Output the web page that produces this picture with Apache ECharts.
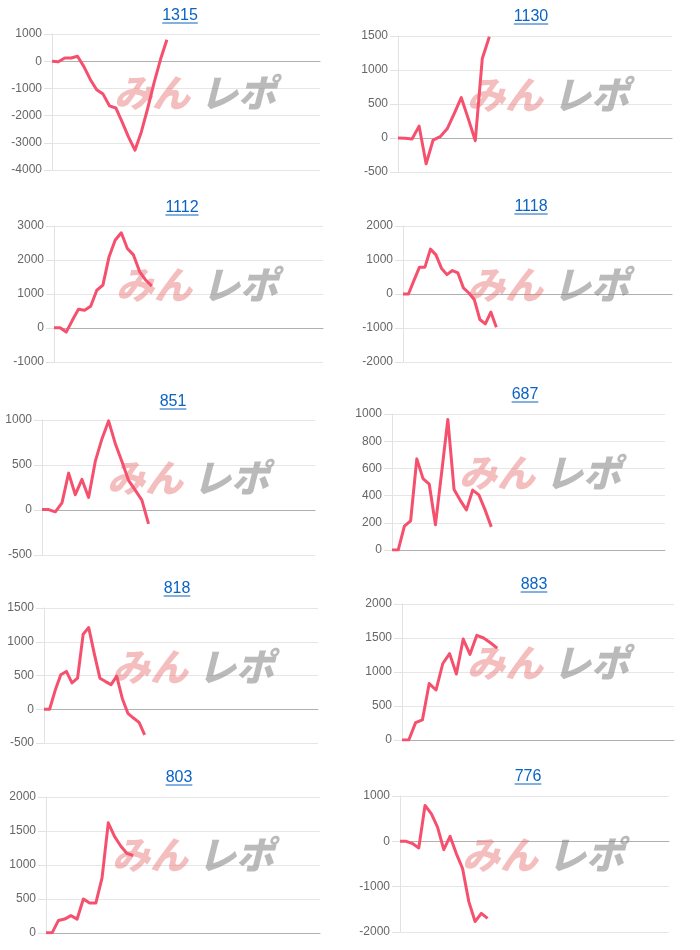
<!DOCTYPE html>
<html><head><meta charset="utf-8">
<script src="https://cdn.jsdelivr.net/npm/echarts@6/dist/echarts.min.js"></script>
<style>html,body{margin:0;padding:0;background:#fff}#c{width:700px;height:950px}</style>
</head><body><div id="c"></div>
<script>
// ---- data ----
const titles = ['1315','1130','1112','1118','851','687','818','883','803','776'];
const s1315 = [0,-20,120,120,180,-200,-670,-1050,-1210,-1640,-1720,-2240,-2790,-3270,-2600,-1730,-790,60,790];
const s1130 = [0,-5,-15,175,-380,-30,20,135,360,595,285,-40,1170,1490];
const s1112 = [10,10,-120,225,550,520,640,1110,1260,2090,2580,2800,2340,2150,1660,1410,1230];
const s1118 = [0,0,400,790,790,1320,1150,760,570,690,620,180,30,-170,-750,-880,-530,-980];
const s851  = [5,5,-20,80,410,170,340,140,540,790,990,740,540,330,220,110,-155];
const s687  = [0,0,175,215,670,525,485,185,570,960,445,365,295,440,405,295,170];
const s818  = [0,0,280,510,560,390,460,1110,1210,820,460,410,365,490,160,-60,-130,-195,-380];
const s883  = [0,0,255,295,830,735,1125,1270,970,1485,1260,1540,1500,1430,1350];
const s803  = [5,5,185,205,255,205,500,440,440,810,1620,1420,1280,1170,1140];
const s776  = [0,0,-50,-145,790,610,315,-185,110,-270,-600,-1330,-1770,-1590,-1700];
const seriesList = [s1315,s1130,s1112,s1118,s851,s687,s818,s883,s803,s776];
const categoryCounts = [43,40,45,50,42,45,50,41,45,44];
const yMin  = [-4000,-500,-1000,-2000,-500,0,-500,0,0,-2000];
const yMax  = [1000,1500,3000,2000,1000,1000,1500,2000,2000,1000];
const yStep = [1000,500,1000,1000,500,200,500,500,500,1000];

// ---- layout ----
const gridRects = [
  [52,34,268,136],[398,36,274,136],
  [54,226,269,136],[403,226,269,136],
  [42,420,273,135],[392,414,273,136],
  [44,608,274,135],[402,604,272,136],
  [46,797,274,136],[400,796,269,136]
];
const titlePos = [[180,16],[531,17],[182,208],[531,207],[173,402],[525,395],[177,589],[534,585],[179,778],[528,777]];
const markPos = [[114,93],[467,95],[116,285],[467,285],[107,478],[459,473],[112,667],[467,663],[112,855],[462,855]];

const LINE = 'rgb(245,80,110)';
const TITLE_COLOR = '#0b63c4';
const titleFont = '16px "Liberation Sans", Arial, sans-serif';
const meas = document.createElement('canvas').getContext('2d');
meas.font = titleFont;

const grids=[], xAxes=[], yAxes=[], series=[], graphics=[];
titles.forEach((t,i)=>{
  const [l,tp,w,h] = gridRects[i];
  grids.push({left:l, top:tp, width:w, height:h, containLabel:false, outerBoundsMode:'none'});
  const cats = [];
  for (let k=0;k<categoryCounts[i];k++) cats.push(String(k+1));
  xAxes.push({type:'category', gridIndex:i, data:cats, boundaryGap:false,
    axisLine:{show:true, onZero:true, lineStyle:{color:'#b0b0b0', width:1}},
    axisTick:{show:false}, axisLabel:{show:false}, splitLine:{show:false}});
  yAxes.push({type:'value', gridIndex:i, min:yMin[i], max:yMax[i], interval:yStep[i],
    axisLine:{show:true, lineStyle:{color:'#e2e2e2'}},
    axisTick:{show:true, length:8, lineStyle:{color:'#e2e2e2'}},
    axisLabel:{color:'#666', fontSize:12, margin:10, fontFamily:'"Liberation Sans", Arial, sans-serif',
      formatter:(v)=>String(v)},
    splitLine:{show:true, lineStyle:{color:'#e6e6e6', width:1}}});
  series.push({type:'line', xAxisIndex:i, yAxisIndex:i, data:seriesList[i],
    symbol:'none', showSymbol:false, z:5,
    lineStyle:{color:LINE, width:3, join:'round'}, itemStyle:{color:LINE}});
  // title (link style)
  const [cx,cy] = titlePos[i];
  const tw = meas.measureText(t).width;
  graphics.push({type:'text', z:10, style:{text:t, x:cx, y:cy, fill:TITLE_COLOR,
    font:titleFont, textAlign:'center', textVerticalAlign:'middle'}});
  graphics.push({type:'line', z:10, shape:{x1:cx-tw/2, y1:cy+7, x2:cx+tw/2, y2:cy+7},
    style:{stroke:TITLE_COLOR, lineWidth:1}});
  // watermark
  const [mx,my] = markPos[i];
  graphics.push({type:'text', z:1, style:{text:'みん', x:mx, y:my, fill:'rgba(230,110,110,0.45)',
    font:'italic 900 38px "Noto Sans CJK JP", sans-serif', textAlign:'left', textVerticalAlign:'middle'}});
  graphics.push({type:'text', z:1, style:{text:'レポ', x:mx+86, y:my, fill:'rgba(130,130,130,0.55)',
    font:'italic 900 38px "Noto Sans CJK JP", sans-serif', textAlign:'left', textVerticalAlign:'middle'}});
});

const chart = echarts.init(document.getElementById('c'), null, {renderer:'canvas'});
chart.setOption({
  animation:false,
  backgroundColor:'#fff',
  grid:grids, xAxis:xAxes, yAxis:yAxes, series:series, graphic:graphics
});
</script></body></html>
